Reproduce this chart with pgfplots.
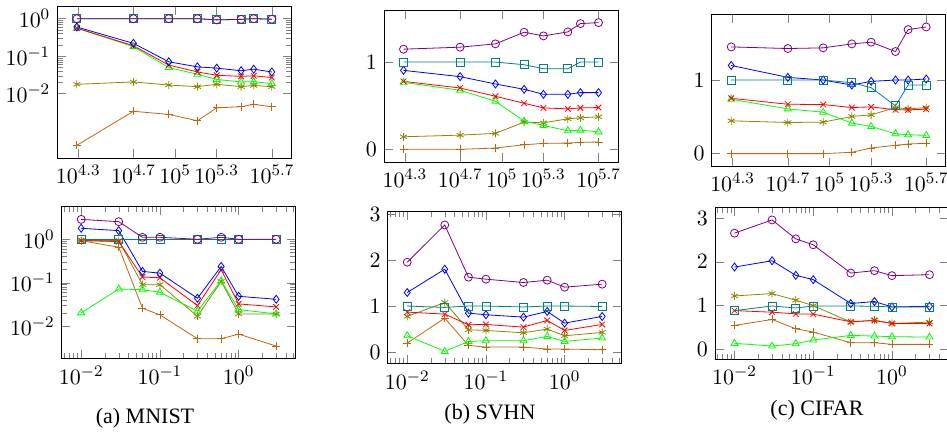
\documentclass[border=0pt]{standalone}
\usepackage[no-math]{fontspec}
\setmainfont{Liberation Serif}
\usepackage{pgfplots}
\usepackage{pgfplotstable}
\pgfplotsset{compat=1.18}

\definecolor{myorange}{rgb}{0.75,0.4,0.05}

\pgfplotsset{every tick label/.append style={font=\fontsize{10.8}{13}\selectfont}}

% columns: or = plus, ol = asterisk, gr = triangle, re = x, bl = diamond, te = square, pu = circle
\pgfplotstableread{
x      or      ol      gr      re     bl     te    pu
19500  4.2e-4  0.0178  0.56    0.56   0.60   1     1
50000  3.4e-3  0.0206  0.18    0.19   0.22   1     1
90000  2.8e-3  0.0170  0.050   0.058  0.071  1     1
145000 1.9e-3  0.0154  0.033   0.038  0.052  1     1
200000 4.2e-3  0.0178  0.024   0.031  0.048  0.93  0.93
300000 4.5e-3  0.0154  0.0206  0.029  0.041  0.96  0.96
370000 5.2e-3  0.0166  0.021   0.030  0.045  1     1
500000 4.5e-3  0.0154  0.0186  0.027  0.038  0.97  0.97
}\tabTL
\pgfplotstableread{
x      or     ol     gr     re     bl     te     pu
19500  0      0.144  0.768  0.779  0.905  1      1.148
50000  0      0.163  0.677  0.703  0.833  1      1.171
90000  0.015  0.183  0.551  0.608  0.749  1      1.209
145000 0.053  0.312  0.323  0.528  0.688  0.970  1.342
200000 0.068  0.304  0.274  0.475  0.631  0.924  1.300
300000 0.072  0.350  0.213  0.464  0.631  0.924  1.346
370000 0.080  0.361  0.220  0.475  0.650  1      1.441
500000 0.084  0.373  0.200  0.479  0.650  1      1.452
}\tabTM
\pgfplotstableread{
x      or     ol     gr     re     bl     te     pu
19500  0      0.446  0.739  0.752  1.198  1      1.450
50000  0      0.423  0.608  0.671  1.036  1      1.428
90000  0      0.428  0.563  0.667  1.000  1      1.437
145000 0.018  0.505  0.414  0.626  0.932  0.964  1.491
200000 0.077  0.527  0.369  0.635  0.982  0.896  1.514
300000 0.113  0.626  0.270  0.595  1.000  0.649  1.387
370000 0.131  0.608  0.257  0.595  1.000  0.932  1.685
500000 0.140  0.626  0.248  0.604  1.014  0.932  1.721
}\tabTR
\pgfplotstableread{
x     or       ol      gr      re      bl      te   pu
0.01  0.93     0.93    0.0202  0.93    1.79    1    2.87
0.03  0.656    0.93    0.0716  0.885   1.58    1    2.54
0.06  0.0258   0.090   0.069   0.135   0.182   1    1.11
0.1   0.0182   0.090   0.060   0.130   0.166   1    1.11
0.3   5.13e-3  0.0169  0.0221  0.0297  0.0438  1    1.0
0.6   5.13e-3  0.107   0.111   0.199   0.237   1    1.11
1     6.56e-3  0.0191  0.0241  0.0325  0.0486  1    1.0
3     3.48e-3  0.0191  0.0191  0.0277  0.0415  1    1.0
}\tabBL
\pgfplotstableread{
x     or     ol     gr     re     bl     te    pu
0.01  0.195  0.774  0.354  0.868  1.294  1.00  1.952
0.03  0.737  1.077  0.015  0.824  1.800  0.97  2.762
0.06  0.145  0.484  0.231  0.593  0.846  1.00  1.627
0.1   0.108  0.470  0.246  0.600  0.810  1.00  1.584
0.3   0.108  0.419  0.246  0.542  0.759  0.98  1.511
0.6   0.065  0.499  0.340  0.687  0.882  1.00  1.562
1     0.065  0.354  0.231  0.470  0.629  1.00  1.410
3     0.050  0.427  0.304  0.600  0.774  0.99  1.475
}\tabBM
\pgfplotstableread{
x     or     ol     gr     re     bl     te     pu
0.01  0.547  1.222  0.137  0.886  1.883  0.886  2.658
0.03  0.683  1.276  0.076  0.850  2.027  0.992  2.961
0.06  0.471  1.124  0.129  0.812  1.693  0.947  2.528
0.1   0.395  1.000  0.213  0.805  1.595  0.992  2.392
0.3   0.152  0.623  0.319  0.630  1.048  0.992  1.746
0.6   0.152  0.668  0.304  0.660  1.094  0.985  1.800
1     0.114  0.592  0.289  0.592  0.970  0.970  1.686
3     0.114  0.623  0.281  0.592  0.985  0.970  1.708
}\tabBR

% draws the seven series of one table
\newcommand{\series}[1]{%
  \addplot[myorange, mark=+] table[x=x, y=or] {#1};
  \addplot[olive, mark=asterisk] table[x=x, y=ol] {#1};
  \addplot[green, mark=triangle] table[x=x, y=gr] {#1};
  \addplot[red, mark=x] table[x=x, y=re] {#1};
  \addplot[blue, mark=diamond] table[x=x, y=bl] {#1};
  \addplot[teal, mark=square] table[x=x, y=te] {#1};
  \addplot[violet, mark=o] table[x=x, y=pu] {#1};
}

\begin{document}
\begin{tikzpicture}
\useasboundingbox (0,0) rectangle (473.5pt,-216pt);

\begin{axis}[scale only axis, width=117pt, height=76pt, anchor=north west,
  at={(28.65pt,-3pt)},
  xmode=log, ymode=log, xmin=14093, xmax=691830,
  xtick={19952.6,50118.7,100000,199526.2,501187.2},
  xticklabels={$10^{4.3}$,$10^{4.7}$,$10^{5}$,$10^{5.3}$,$10^{5.7}$},
  ymin=1.93e-4, ymax=2.18, ytick={0.01,0.1,1}]
  \series{\tabTL}
\end{axis}

\begin{axis}[scale only axis, width=117pt, height=76pt, anchor=north west,
  at={(192pt,-5pt)},
  xmode=log, xmin=14093, xmax=691830,
  xtick={19952.6,50118.7,100000,199526.2,501187.2},
  xticklabels={$10^{4.3}$,$10^{4.7}$,$10^{5}$,$10^{5.3}$,$10^{5.7}$},
  ymin=-0.145, ymax=1.597, ytick={0,1}]
  \series{\tabTM}
\end{axis}

\begin{axis}[scale only axis, width=117pt, height=76pt, anchor=north west,
  at={(355.85pt,-7.15pt)},
  xmode=log, xmin=14093, xmax=691830,
  xtick={19952.6,50118.7,100000,199526.2,501187.2},
  xticklabels={$10^{4.3}$,$10^{4.7}$,$10^{5}$,$10^{5.3}$,$10^{5.7}$},
  ymin=-0.172, ymax=1.893, ytick={0,1}]
  \series{\tabTR}
\end{axis}

\begin{axis}[scale only axis, width=117pt, height=76pt, anchor=north west,
  at={(30.85pt,-103.35pt)},
  xmode=log, ymode=log, xmin=0.005652, xmax=5.31,
  ymin=1.78e-3, ymax=5.62, ytick={0.01,0.1,1}]
  \series{\tabBL}
\end{axis}

\begin{axis}[scale only axis, width=117pt, height=76pt, anchor=north west,
  at={(193.85pt,-105.85pt)},
  xmode=log, xmin=0.005652, xmax=5.31,
  ymin=-0.253, ymax=3.05, ytick={0,1,2,3}]
  \series{\tabBM}
\end{axis}

\begin{axis}[scale only axis, width=117pt, height=76pt, anchor=north west,
  at={(357.5pt,-103.65pt)},
  xmode=log, xmin=0.005652, xmax=5.31,
  ymin=-0.228, ymax=3.25, ytick={0,1,2,3}]
  \series{\tabBR}
\end{axis}

\node[font=\fontsize{11}{13}\selectfont] at (72.5pt,-209pt) {(a) MNIST};
\node[font=\fontsize{11}{13}\selectfont] at (245pt,-207pt) {(b) SVHN};
\node[font=\fontsize{11}{13}\selectfont] at (408.5pt,-205pt) {(c) CIFAR};
\end{tikzpicture}
\end{document}
